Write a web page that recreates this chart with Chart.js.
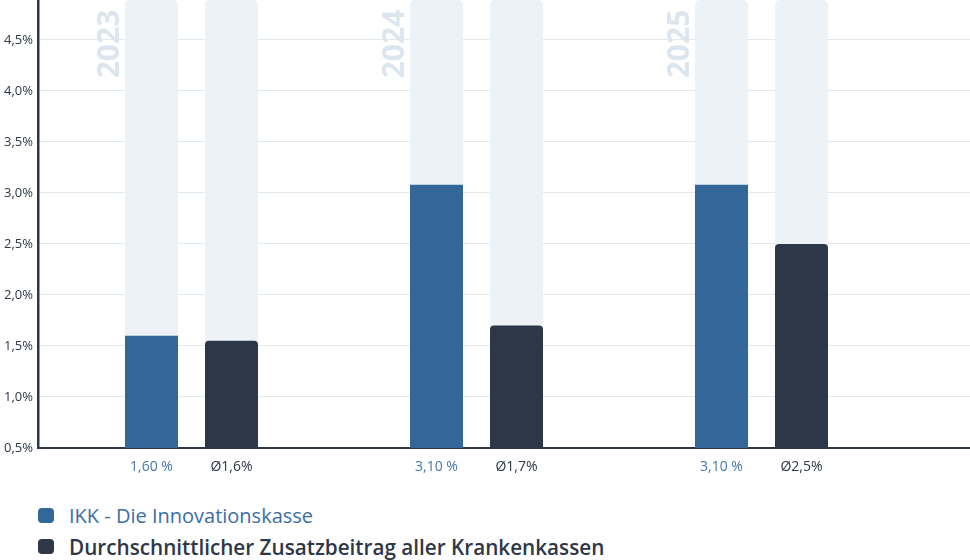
<!DOCTYPE html>
<html>
<head>
<meta charset="utf-8">
<script src="https://cdn.jsdelivr.net/npm/chart.js@4/dist/chart.umd.min.js"></script>
<style>
  body { margin: 0; background: #fff; font-family: "Open Sans", sans-serif; }
  #wrap { position: relative; width: 970px; height: 491px; }
  #legend { position: absolute; left: 38px; top: 500px; }
  .item { display: flex; align-items: center; height: 31px; }
  .box { width: 16px; height: 15px; border-radius: 4px; margin-right: 15px; }
</style>
</head>
<body>
<div id="wrap"><canvas id="chart"></canvas></div>
<div id="legend"></div>
<script>
var categories = ['2023', '2024', '2025'];
var ikkValues = [1.6, 3.08, 3.08];
var avgValues = [1.55, 1.7, 2.5];
var ikkLabels = ['1,60 %', '3,10 %', '3,10 %'];
var avgLabels = ['Ø1,6%', 'Ø1,7%', 'Ø2,5%'];
var yTicks = [0.5, 1, 1.5, 2, 2.5, 3, 3.5, 4, 4.5];
var yMin = 0.5, yMax = 4.89;

var blue = '#33679a', dark = '#2e3748', track = '#edf2f7';

function points(values) {
  return values.map(function (v, i) { return { x: i, y: v }; });
}
var trackValues = categories.map(function () { return yMax; });

// year labels and value labels under the bars
var extras = {
  id: 'extras',
  afterDatasetsDraw: function (chart) {
    var ctx = chart.ctx, x = chart.scales.x, area = chart.chartArea;
    ctx.save();
    ctx.font = 'bold 30px "Open Sans"';
    ctx.fillStyle = '#dde5ef';
    ctx.textAlign = 'center';
    ctx.textBaseline = 'middle';
    categories.forEach(function (c, i) {
      ctx.save();
      ctx.translate(x.getPixelForValue(i) - 81, 44);
      ctx.rotate(-Math.PI / 2);
      ctx.fillText(c, 0, 0);
      ctx.restore();
    });
    ctx.font = '14px "Open Sans"';
    [[0, ikkLabels, '#4677ad'], [1, avgLabels, '#2d3748']].forEach(function (d) {
      var meta = chart.getDatasetMeta(d[0]);
      ctx.fillStyle = d[2];
      meta.data.forEach(function (bar, i) {
        ctx.fillText(d[1][i], bar.x, area.bottom + 19);
      });
    });
    ctx.restore();
  }
};

var ctx = document.getElementById('chart').getContext('2d');
var chart = new Chart(ctx, {
  type: 'bar',
  data: {
    datasets: [{
      label: 'IKK - Die Innovationskasse',
      data: points(ikkValues),
      backgroundColor: blue,
      borderRadius: 0,
      stack: 'ikk',
      order: 1
    }, {
      label: 'Durchschnittlicher Zusatzbeitrag aller Krankenkassen',
      data: points(avgValues),
      backgroundColor: dark,
      borderRadius: { topLeft: 4, topRight: 4 },
      borderSkipped: 'bottom',
      stack: 'avg',
      order: 1
    }, {
      data: points(trackValues),
      backgroundColor: track,
      borderRadius: { topLeft: 5, topRight: 5 },
      borderSkipped: 'bottom',
      stack: 'ikk',
      order: 2
    }, {
      data: points(trackValues),
      backgroundColor: track,
      borderRadius: { topLeft: 5, topRight: 5 },
      borderSkipped: 'bottom',
      stack: 'avg',
      order: 2
    }]
  },
  options: {
    responsive: true,
    maintainAspectRatio: false,
    animation: false,
    categoryPercentage: 0.5614,
    barPercentage: 0.6625,
    layout: { padding: 0 },
    scales: {
      x: {
        type: 'linear',
        offset: false,
        min: -0.5386,
        max: 2.7316,
        afterBuildTicks: function (s) {
          s.ticks = categories.map(function (c, i) { return { value: i }; });
        },
        afterFit: function (s) { s.height = 43; },
        ticks: { display: false },
        grid: { display: false, drawTicks: false },
        border: { color: '#2d3748', width: 2 }
      },
      y: {
        stacked: false,
        min: yMin,
        max: yMax,
        afterBuildTicks: function (s) {
          s.ticks = yTicks.map(function (v) { return { value: v }; });
        },
        afterFit: function (s) {
          s.width = 38;
          s.paddingTop = 0;
          s.paddingBottom = 0;
        },
        ticks: {
          padding: 5,
          color: '#2d3748',
          font: { family: 'Open Sans', size: 13 },
          callback: function (v) { return v.toFixed(1).replace('.', ',') + '%'; }
        },
        grid: { color: '#e2e8f0', drawTicks: false },
        border: { color: '#2d3748', width: 2.5 }
      }
    },
    plugins: {
      legend: { display: false },
      tooltip: { enabled: false }
    }
  },
  plugins: [extras]
});

var legend = document.getElementById('legend');
[[0, '#3b6ea5', 400, 20], [1, '#2d3748', 600, 20.7]].forEach(function (d) {
  var ds = chart.data.datasets[d[0]];
  var item = document.createElement('div');
  item.className = 'item';
  var box = document.createElement('div');
  box.className = 'box';
  box.style.background = ds.backgroundColor;
  var text = document.createElement('span');
  text.textContent = ds.label;
  text.style.color = d[1];
  text.style.fontWeight = d[2];
  text.style.fontSize = d[3] + 'px';
  item.appendChild(box);
  item.appendChild(text);
  legend.appendChild(item);
});
</script>
</body>
</html>
